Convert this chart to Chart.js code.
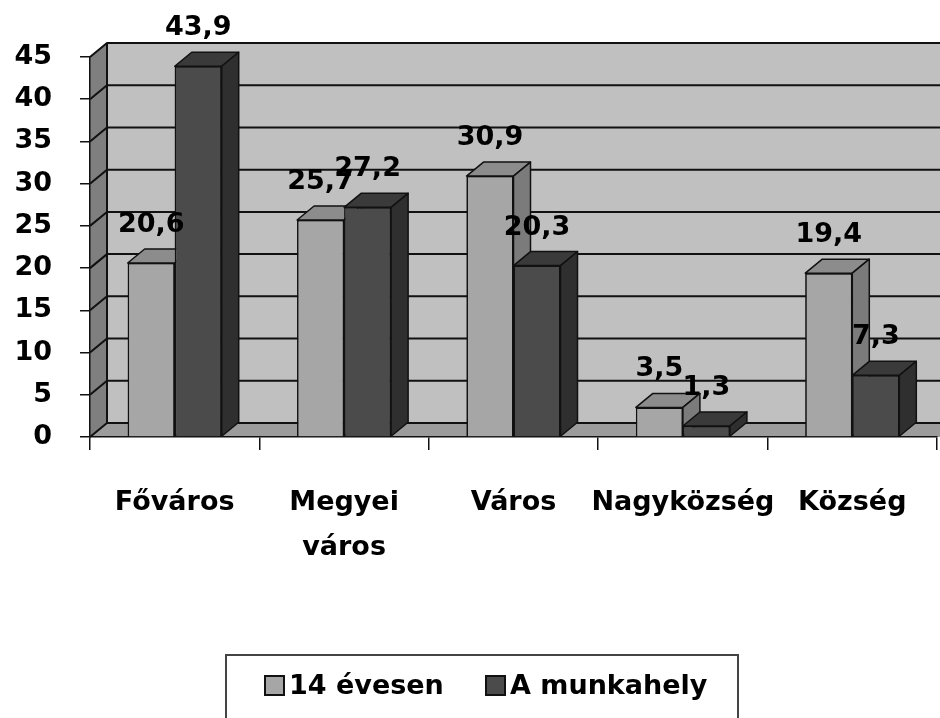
<!DOCTYPE html>
<html>
<head>
<meta charset="utf-8">
<script src="https://cdn.jsdelivr.net/npm/chart.js@4.4.0/dist/chart.umd.min.js"></script>
<style>
  body { margin: 0; background: #fff; }
</style>
</head>
<body>
<canvas id="myChart" width="940" height="718"></canvas>
<script>
// data
const categories = ['Főváros', ['Megyei', 'város'], 'Város', 'Nagyközség', 'Község'];
const evesen14 = [20.6, 25.7, 30.9, 3.5, 19.4];
const munkahely = [43.9, 27.2, 20.3, 1.3, 7.3];
const seriesNames = ['14 évesen', 'A munkahely'];
const yMin = 0, yMax = 45, yStep = 5;

// 3d look
const DX = 17, DY = 14;
const shades = [
  { front: '#a6a6a6', top: '#8c8c8c', side: '#7b7b7b' },
  { front: '#4b4b4b', top: '#3a3a3a', side: '#2f2f2f' }
];
const FONT = "'DejaVu Sans', sans-serif";

function drawBox(ctx, bar, sh) {
  const p = bar.getProps(['x', 'y', 'base', 'width'], true);
  const l = p.x - p.width / 2, r = p.x + p.width / 2;
  bar.draw(ctx);
  ctx.strokeStyle = '#111';
  ctx.lineWidth = 1.5;
  ctx.lineJoin = 'round';
  // top face
  ctx.fillStyle = sh.top;
  ctx.beginPath();
  ctx.moveTo(l, p.y);
  ctx.lineTo(l + DX, p.y - DY);
  ctx.lineTo(r + DX, p.y - DY);
  ctx.lineTo(r, p.y);
  ctx.closePath();
  ctx.fill();
  ctx.stroke();
  // side face
  ctx.fillStyle = sh.side;
  ctx.beginPath();
  ctx.moveTo(r, p.y);
  ctx.lineTo(r + DX, p.y - DY);
  ctx.lineTo(r + DX, p.base - DY);
  ctx.lineTo(r, p.base);
  ctx.closePath();
  ctx.fill();
  ctx.stroke();
}

const walls = {
  id: 'walls',
  beforeDraw(chart) {
    const ctx = chart.ctx, a = chart.chartArea, y = chart.scales.y;
    const right = chart.width + 20;
    ctx.save();
    // back wall
    ctx.fillStyle = '#c0c0c0';
    ctx.fillRect(a.left + DX, a.top - DY, right, a.bottom - a.top);
    // floor
    ctx.fillStyle = '#9c9c9c';
    ctx.beginPath();
    ctx.moveTo(a.left, a.bottom);
    ctx.lineTo(a.left + DX, a.bottom - DY);
    ctx.lineTo(right, a.bottom - DY);
    ctx.lineTo(right, a.bottom);
    ctx.closePath();
    ctx.fill();
    // left wall
    ctx.fillStyle = '#7f7f7f';
    ctx.beginPath();
    ctx.moveTo(a.left, a.top);
    ctx.lineTo(a.left + DX, a.top - DY);
    ctx.lineTo(a.left + DX, a.bottom - DY);
    ctx.lineTo(a.left, a.bottom);
    ctx.closePath();
    ctx.fill();
    // grid lines on the walls
    ctx.strokeStyle = '#111';
    ctx.lineWidth = 2;
    y.ticks.forEach(t => {
      const py = y.getPixelForValue(t.value);
      ctx.beginPath();
      ctx.moveTo(a.left, py);
      ctx.lineTo(a.left + DX, py - DY);
      ctx.lineTo(right, py - DY);
      ctx.stroke();
    });
    ctx.beginPath();
    ctx.moveTo(a.left + DX, a.top - DY);
    ctx.lineTo(a.left + DX, a.bottom - DY);
    ctx.stroke();
    ctx.restore();
  },
  afterDatasetsDraw(chart) {
    const ctx = chart.ctx;
    const metas = chart.data.datasets.map((ds, i) => chart.getDatasetMeta(i));
    ctx.save();
    // boxes, left series first in every category so the right one covers its side
    categories.forEach((c, j) => {
      metas.forEach((m, i) => drawBox(ctx, m.data[j], shades[i]));
    });
    // value labels
    ctx.font = 'bold 27px ' + FONT;
    ctx.fillStyle = '#000';
    ctx.textAlign = 'center';
    ctx.textBaseline = 'middle';
    chart.data.datasets.forEach((ds, i) => {
      metas[i].data.forEach((bar, j) => {
        const txt = ds.data[j].toFixed(1).replace('.', ',');
        ctx.fillText(txt, bar.x, bar.y - 38);
      });
    });
    ctx.restore();
  },
  afterDraw(chart) {
    // legend box
    const ctx = chart.ctx;
    ctx.save();
    ctx.strokeStyle = '#444';
    ctx.lineWidth = 2;
    ctx.strokeRect(226, 655, 512, 90);
    const items = [{ x: 265, tx: 289 }, { x: 486, tx: 510 }];
    ctx.font = 'bold 27px ' + FONT;
    ctx.textBaseline = 'middle';
    ctx.textAlign = 'left';
    items.forEach((it, i) => {
      ctx.fillStyle = shades[i].front;
      ctx.fillRect(it.x, 676, 19, 19);
      ctx.lineWidth = 2;
      ctx.strokeStyle = '#111';
      ctx.strokeRect(it.x, 676, 19, 19);
      ctx.fillStyle = '#000';
      ctx.fillText(seriesNames[i], it.tx, 687);
    });
    ctx.restore();
  }
};

const data = {
  labels: categories,
  datasets: [{
    label: seriesNames[0],
    data: evesen14,
    backgroundColor: shades[0].front,
    borderColor: '#111',
    borderWidth: 1.5
  }, {
    label: seriesNames[1],
    data: munkahely,
    backgroundColor: shades[1].front,
    borderColor: '#111',
    borderWidth: 1.5
  }]
};

const config = {
  type: 'bar',
  data: data,
  plugins: [walls],
  options: {
    responsive: false,
    animation: false,
    devicePixelRatio: 1,
    layout: { padding: { top: 57, right: 3, left: 0, bottom: 148 } },
    datasets: { bar: { categoryPercentage: 0.555, barPercentage: 1 } },
    scales: {
      x: {
        grid: { drawOnChartArea: false, drawTicks: true, tickLength: 13, color: '#111', lineWidth: 1.5 },
        border: { color: '#111', width: 1.5 },
        ticks: {
          color: '#000',
          padding: 30,
          maxRotation: 0,
          autoSkip: false,
          font: { family: FONT, size: 27, weight: 'bold', lineHeight: 1.67 }
        },
        afterFit: s => { s.height = 133; }
      },
      y: {
        min: yMin,
        max: yMax,
        grid: { drawOnChartArea: false, drawTicks: true, tickLength: 10, color: '#111', lineWidth: 1.5 },
        border: { color: '#111', width: 1.5 },
        ticks: {
          stepSize: yStep,
          color: '#000',
          padding: 28,
          font: { family: FONT, size: 27, weight: 'bold' }
        },
        afterFit: s => { s.width = 90; }
      }
    },
    plugins: {
      legend: { display: false },
      tooltip: { enabled: false }
    }
  }
};

const myChart = new Chart(document.getElementById('myChart'), config);
</script>
</body>
</html>
